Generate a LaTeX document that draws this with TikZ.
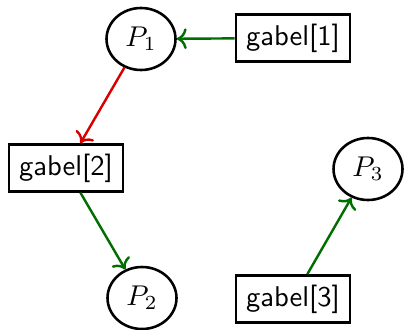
\documentclass[tikz,border=0pt]{standalone}
\usetikzlibrary{shapes.geometric,arrows.meta}
\definecolor{dgreen}{RGB}{0,110,0}
\definecolor{dred}{RGB}{215,0,0}
\begin{document}
\begin{tikzpicture}[x=0.35pt,y=-0.35pt,
  proc/.style={ellipse,draw,line width=0.9pt,minimum width=69*0.35pt,minimum height=62*0.35pt,inner sep=0pt},
  gbox/.style={rectangle,draw,line width=0.9pt,minimum width=114*0.35pt,minimum height=47*0.35pt,inner sep=0pt,font=\sffamily},
  conn/.style={->,line width=0.85pt},
]
\useasboundingbox (0,0) rectangle (404,329);
\node[proc] (p1) at (141,39) {$P_1$};
\node[gbox] (g1) at (293,38) {gabel[1]};
\node[gbox] (g2) at (66,168) {gabel[2]};
\node[proc] (p3) at (368,169) {$P_3$};
\node[proc] (p2) at (142,298) {$P_2$};
\node[gbox] (g3) at (293,299) {gabel[3]};
\draw[conn,dgreen] (g1) -- (p1);
\draw[conn,dred] (p1) -- (g2);
\draw[conn,dgreen] (g2) -- (p2);
\draw[conn,dgreen] (g3) -- (p3);
\end{tikzpicture}
\end{document}
